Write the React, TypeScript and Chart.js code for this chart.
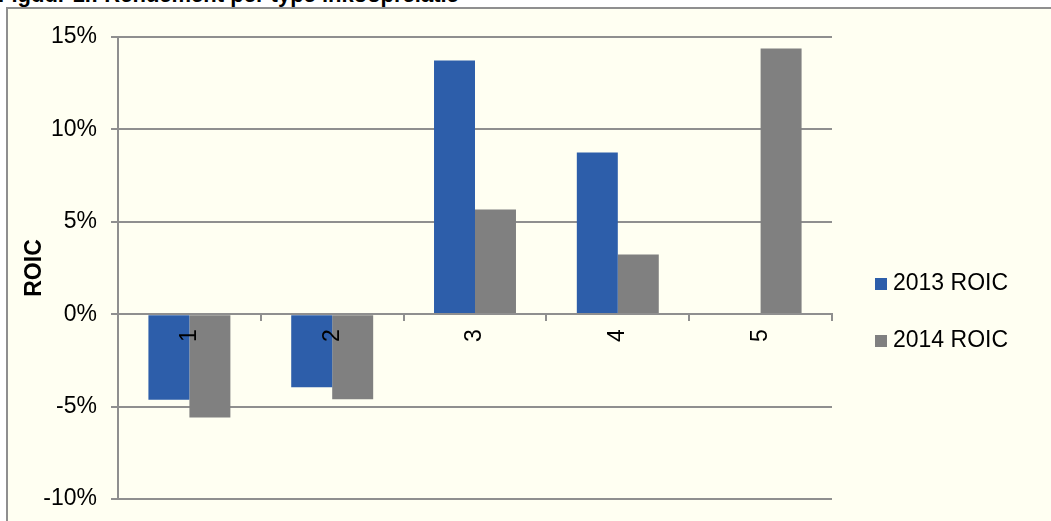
import React, { useEffect, useRef } from "react";
import { Chart, registerables } from "chart.js";

Chart.register(...registerables);

const categories = ["1", "2", "3", "4", "5"];
const roic2013: (number | null)[] = [-4.63, -3.95, 13.73, 8.75, null];
const roic2014: (number | null)[] = [-5.59, -4.6, 5.67, 3.23, 14.38];
const seriesLabels = ["2013 ROIC", "2014 ROIC"];
const seriesColors = ["#2D5EAA", "#808080"];
const yTicks = [-10, -5, 0, 5, 10, 15];
const titleText = "Figuur 1.: Rendement per type inkooprelatie";
const axisTitle = "ROIC";

const FONT = "'Liberation Sans', Arial, Helvetica, sans-serif";
const GRID = "#8f8f8f";

const sideLegend = {
  id: "sideLegend",
  afterDraw(chart: any) {
    const { ctx, chartArea } = chart;
    ctx.save();
    ctx.font = `23px ${FONT}`;
    ctx.textBaseline = "middle";
    ctx.textAlign = "left";
    chart.data.datasets.forEach((ds: any, i: number) => {
      const cy = chartArea.top + 247 + i * 57;
      const x = chartArea.right + 43;
      ctx.fillStyle = ds.backgroundColor;
      ctx.fillRect(x, cy - 6, 12, 12);
      ctx.fillStyle = "#000";
      ctx.fillText(ds.label, x + 18, cy);
    });
    ctx.restore();
  },
};

export default function App() {
  const ref = useRef<HTMLCanvasElement>(null);
  useEffect(() => {
    document.body.style.margin = "0";
    const chart = new Chart(ref.current!, {
      type: "bar",
      data: {
        labels: categories,
        datasets: [
          {
            label: seriesLabels[0],
            data: roic2013,
            backgroundColor: seriesColors[0],
            categoryPercentage: 0.574,
            barPercentage: 1,
            borderWidth: 0,
          },
          {
            label: seriesLabels[1],
            data: roic2014,
            backgroundColor: seriesColors[1],
            categoryPercentage: 0.574,
            barPercentage: 1,
            borderWidth: 0,
          },
        ],
      },
      options: {
        responsive: false,
        animation: false,
        layout: { padding: { left: 0, right: 219, top: 37, bottom: 22 } },
        plugins: { legend: { display: false }, tooltip: { enabled: false } },
        scales: {
          x: {
            position: { y: 0 } as any,
            grid: {
              offset: true,
              drawOnChartArea: false,
              drawTicks: true,
              tickLength: 6,
              color: GRID,
              lineWidth: 2,
              z: 1,
            },
            border: { display: true, color: GRID, width: 2, z: 1 },
            ticks: {
              autoSkip: false,
              maxRotation: 90,
              minRotation: 90,
              padding: 9,
              color: "#000",
              font: { family: FONT, size: 23 },
              z: 2,
            },
          },
          y: {
            min: yTicks[0],
            max: yTicks[yTicks.length - 1],
            ticks: {
              stepSize: yTicks[1] - yTicks[0],
              padding: 14,
              color: "#000",
              font: { family: FONT, size: 23 },
              callback: (v: any) => v + "%",
            },
            grid: { color: GRID, lineWidth: 2, tickLength: 7 },
            border: { display: true, color: GRID, width: 2 },
            title: {
              display: true,
              text: axisTitle,
              color: "#000",
              font: { family: FONT, size: 23, weight: "bold" },
              padding: { top: 21, bottom: 0 },
            },
            afterFit: (s: any) => {
              s.width = 118;
              s.paddingTop = 0;
              s.paddingBottom = 0;
            },
          },
        },
      },
      plugins: [sideLegend],
    });
    return () => chart.destroy();
  }, []);
  return (
    <div
      style={{
        position: "relative",
        width: 1051,
        height: 521,
        overflow: "hidden",
        background: "#fff",
      }}
    >
      <style>{"body{margin:0}"}</style>
      <div
        style={{
          position: "absolute",
          left: -2,
          top: -16,
          font: `bold 22px ${FONT}`,
          lineHeight: "22px",
          whiteSpace: "nowrap",
          color: "#000",
        }}
      >
        {titleText}
      </div>
      <div
        style={{
          position: "absolute",
          left: 6,
          top: 7,
          width: 1100,
          height: 600,
          background: "#FFFFF2",
          borderLeft: `2px solid ${GRID}`,
          borderTop: `2px solid ${GRID}`,
        }}
      />
      <canvas
        ref={ref}
        width={1051}
        height={521}
        style={{ position: "absolute", left: 0, top: 0 }}
      />
    </div>
  );
}
